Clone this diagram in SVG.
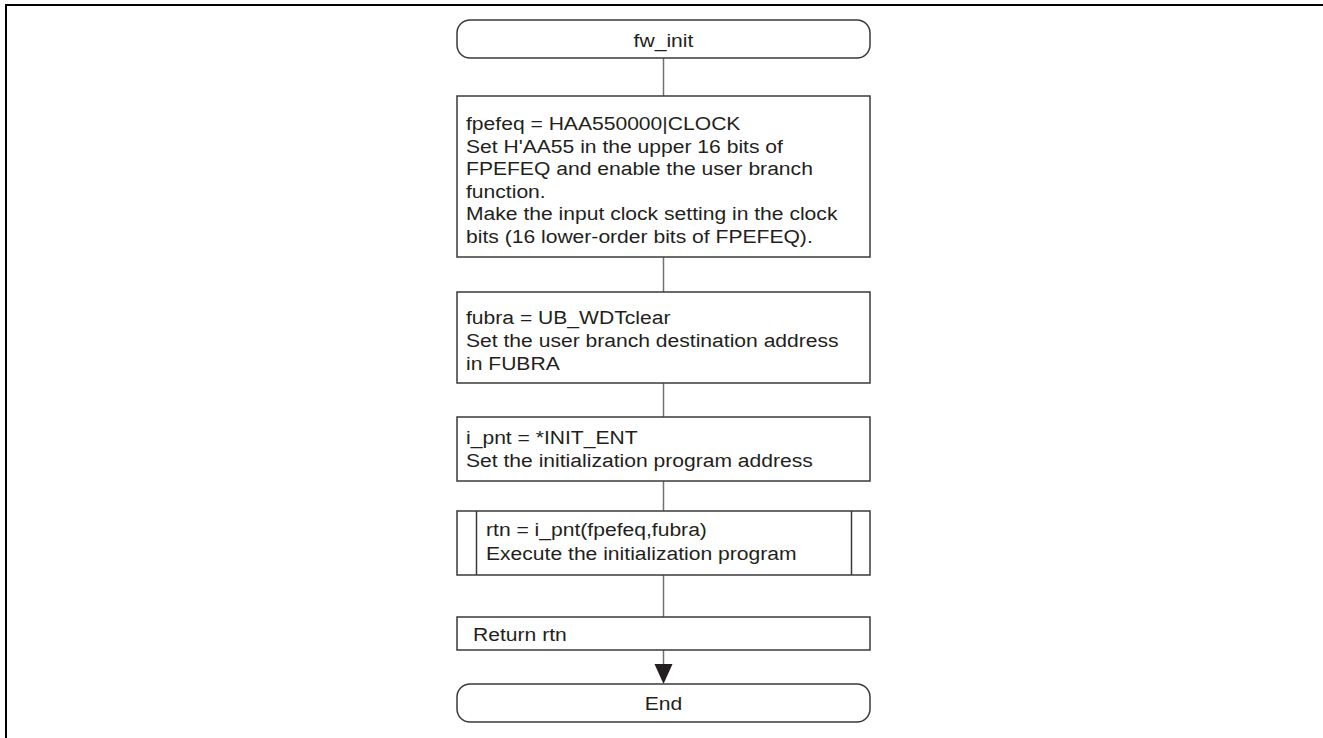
<svg xmlns="http://www.w3.org/2000/svg" width="1323" height="738" viewBox="0 0 1323 738">
<defs>
<style>
.box{fill:#ffffff;stroke:#3a3a3a;stroke-width:1.5}
.conn{fill:none;stroke:#707070;stroke-width:1.5}
.t{font-family:"Liberation Sans",Arial,sans-serif;font-size:19px;fill:#231f20}
.c{text-anchor:middle}
</style>
</defs>
<rect x="0" y="0" width="1323" height="738" fill="#ffffff"/>
<path d="M6,738 V5 H1323" fill="none" stroke="#000000" stroke-width="2"/>
<g id="connectors">
<line class="conn" x1="663.5" y1="58" x2="663.5" y2="96"/>
<line class="conn" x1="663.5" y1="257" x2="663.5" y2="292"/>
<line class="conn" x1="663.5" y1="383" x2="663.5" y2="417"/>
<line class="conn" x1="663.5" y1="481" x2="663.5" y2="511"/>
<line class="conn" x1="663.5" y1="575" x2="663.5" y2="617"/>
<line class="conn" x1="663.5" y1="650" x2="663.5" y2="666"/>
<polygon points="654.5,664 672.5,664 663.5,684" fill="#231f20"/>
</g>
<g id="start">
<rect class="box" x="457" y="20" width="413" height="38" rx="13" ry="13"/>
<g transform="translate(663.5 0) scale(1.11 1)"><text class="t c" x="0" y="47">fw_init</text></g>
</g>
<g id="box1">
<rect class="box" x="457" y="96" width="413" height="161"/>
<g transform="translate(466 0) scale(1.11 1)">
<text class="t" x="0" y="130">fpefeq = HAA550000|CLOCK</text>
<text class="t" x="0" y="152.6">Set H'AA55 in the upper 16 bits of</text>
<text class="t" x="0" y="175.2">FPEFEQ and enable the user branch</text>
<text class="t" x="0" y="197.8">function.</text>
<text class="t" x="0" y="220.4">Make the input clock setting in the clock</text>
<text class="t" x="0" y="243">bits (16 lower-order bits of FPEFEQ).</text>
</g>
</g>
<g id="box2">
<rect class="box" x="457" y="292" width="413" height="91"/>
<g transform="translate(466 0) scale(1.11 1)">
<text class="t" x="0" y="324">fubra = UB_WDTclear</text>
<text class="t" x="0" y="347">Set the user branch destination address</text>
<text class="t" x="0" y="370">in FUBRA</text>
</g>
</g>
<g id="box3">
<rect class="box" x="457" y="417" width="413" height="64"/>
<g transform="translate(466 0) scale(1.11 1)">
<text class="t" x="0" y="444">i_pnt = *INIT_ENT</text>
<text class="t" x="0" y="467">Set the initialization program address</text>
</g>
</g>
<g id="box4">
<rect class="box" x="457" y="511" width="413" height="64"/>
<line class="box" x1="476.5" y1="511" x2="476.5" y2="575"/>
<line class="box" x1="851.5" y1="511" x2="851.5" y2="575"/>
<g transform="translate(486 0) scale(1.11 1)">
<text class="t" x="0" y="536">rtn = i_pnt(fpefeq,fubra)</text>
<text class="t" x="0" y="560">Execute the initialization program</text>
</g>
</g>
<g id="box5">
<rect class="box" x="457" y="617" width="413" height="33"/>
<g transform="translate(473 0) scale(1.11 1)"><text class="t" x="0" y="641">Return rtn</text></g>
</g>
<g id="end">
<rect class="box" x="457" y="684" width="413" height="38" rx="13" ry="13"/>
<g transform="translate(663.5 0) scale(1.11 1)"><text class="t c" x="0" y="710">End</text></g>
</g>
</svg>
